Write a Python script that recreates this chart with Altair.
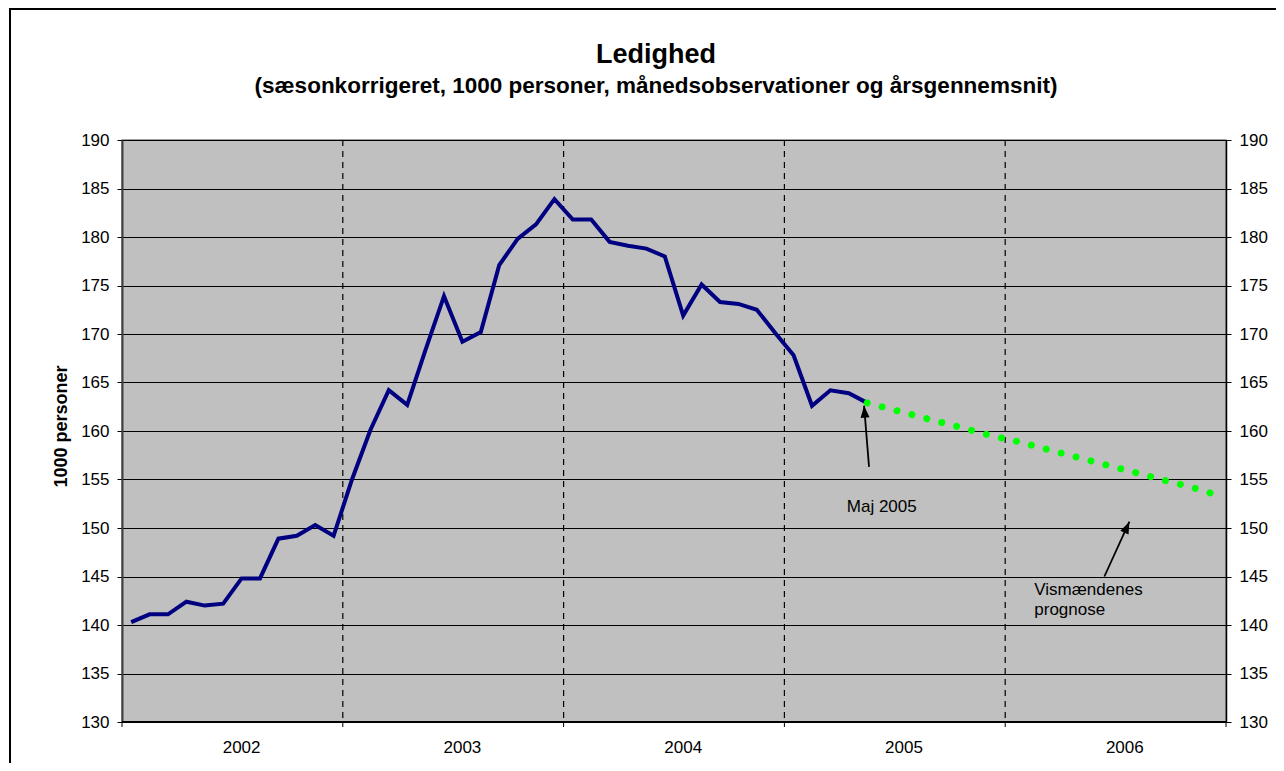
import altair as alt
import pandas as pd

# ---- data ----
# month number counted from January 2002 (= 1)
obs_month = list(range(1, 42))
ledighed = [140.3, 141.1, 141.1, 142.4, 142.0, 142.2, 144.8, 144.8, 148.9, 149.2, 150.3, 149.2,
            155.0, 160.1, 164.2, 162.7, 168.4, 173.9, 169.2, 170.2, 177.1, 179.8, 181.3, 183.9,
            181.8, 181.8, 179.5, 179.1, 178.8, 178.0, 171.9, 175.1, 173.3, 173.1, 172.5, 170.1,
            167.8, 162.6, 164.2, 163.9, 162.9]
prog_month = list(range(41, 61))
prognose = [162.9, 162.4, 161.9, 161.4, 160.9, 160.4, 159.9, 159.4, 159.0, 158.5,
            158.0, 157.5, 157.0, 156.5, 156.0, 155.5, 155.0, 154.5, 154.0, 153.4]
years = [2002, 2003, 2004, 2005, 2006]
y_ticks = [130, 135, 140, 145, 150, 155, 160, 165, 170, 175, 180, 185, 190]
year_bounds = [0, 12, 24, 36, 48, 60]
inner_bounds = [12, 24, 36, 48]

W, H = 1104, 582
FONT = "Liberation Sans"

xs = alt.Scale(domain=[0, 60], nice=False, zero=False)
ys = alt.Scale(domain=[130, 190], nice=False, zero=False)

obs = pd.DataFrame({"m": obs_month, "v": ledighed})
prog = pd.DataFrame({"m": prog_month, "v": prognose})
yr = pd.DataFrame({"year": years})
bounds = pd.DataFrame({"b": year_bounds})
inner = pd.DataFrame({"b": inner_bounds})
one = pd.DataFrame({"a": [0]})

vgrid = alt.Chart(inner).mark_rule(color="black", strokeWidth=1.2, strokeDash=[6, 5]).encode(
    x=alt.X("b:Q", scale=xs, axis=None),
    y=alt.value(0), y2=alt.value(H),
)

xticks = alt.Chart(bounds).mark_rule(color="black", strokeWidth=1).encode(
    x=alt.X("b:Q", scale=xs, axis=None),
    y=alt.value(H), y2=alt.value(H + 5),
)

blue = alt.Chart(obs).transform_calculate(x="datum.m - 0.5").mark_line(
    color="#000080", strokeWidth=4
).encode(
    x=alt.X("x:Q", scale=xs, axis=None),
    y=alt.Y("v:Q", scale=ys, axis=alt.Axis(
        orient="left", values=y_ticks, title="1000 personer",
        titleFont=FONT, titleFontSize=18, titleFontWeight="bold", titleColor="black",
        titleAngle=270, titleX=-61, titleY=286, titleAlign="center", titleBaseline="middle",
        labelFont=FONT, labelFontSize=17, labelColor="black", labelPadding=8,
        ticks=True, tickSize=5, tickColor="black",
        grid=True, gridColor="black", gridWidth=1,
        domainColor="#404040", domainWidth=2)),
)

green = alt.Chart(prog).transform_calculate(x="datum.m - 0.5").mark_line(
    color="#00FF00", strokeWidth=7, strokeCap="round", strokeDash=[0.01, 15.4]
).encode(
    x=alt.X("x:Q", scale=xs, axis=None),
    y=alt.Y("v:Q", scale=ys, axis=alt.Axis(
        orient="right", values=y_ticks, title=None, grid=False,
        labelFont=FONT, labelFontSize=17, labelColor="black", labelPadding=8,
        ticks=True, tickSize=5, tickColor="black",
        domainColor="black", domainWidth=1.5)),
)

x_domain = alt.Chart(one).mark_rule(color="black", strokeWidth=2).encode(
    x=alt.value(0), x2=alt.value(W), y=alt.value(H))

year_labels = alt.Chart(yr).transform_calculate(
    x="(datum.year - 2002) * 12 + 6.5", t="'' + datum.year"
).mark_text(font=FONT, fontSize=17, color="black", baseline="alphabetic", align="center").encode(
    x=alt.X("x:Q", scale=xs, axis=None),
    y=alt.value(613),
    text="t:N",
)

def arrow(tail_x, tail_y, tip_x, tip_y, ang):
    shaft = alt.Chart(one).mark_rule(color="black", strokeWidth=1.8).encode(
        x=alt.XDatum(tail_x, scale=xs, axis=None),
        y=alt.YDatum(tail_y, scale=ys, axis=None),
        x2=alt.datum(tip_x),
        y2=alt.datum(tip_y),
    )
    head = alt.Chart(one).mark_point(
        shape="M0,0L-0.75,2L0.75,2Z", filled=True, color="black", opacity=1,
        size=144, angle=ang, strokeWidth=0
    ).encode(
        x=alt.XDatum(tip_x, scale=xs, axis=None),
        y=alt.YDatum(tip_y, scale=ys, axis=None),
    )
    return [shaft, head]

def note(tx, ty, text):
    return alt.Chart(one).mark_text(
        font=FONT, fontSize=17, color="black", align="left", baseline="alphabetic", lineHeight=20
    ).encode(
        x=alt.XDatum(tx, scale=xs, axis=None),
        y=alt.YDatum(ty, scale=ys, axis=None),
        text=alt.value(text),
    )

maj_arrow = arrow(40.6, 156.3, 40.33, 162.6, 355.3)
vis_arrow = arrow(53.39, 145.0, 54.75, 150.65, 24.4)
maj_text = note(39.39, 151.7, "Maj 2005")
vis_text = note(49.58, 143.1, ["Vismændenes", "prognose"])

title = alt.Chart(one).mark_text(
    font=FONT, fontSize=27, fontWeight="bold", color="black", align="center", baseline="alphabetic"
).encode(x=alt.value(534), y=alt.value(-77), text=alt.value("Ledighed"))

subtitle = alt.Chart(one).mark_text(
    font=FONT, fontSize=22.5, fontWeight="bold", color="black", align="center", baseline="alphabetic"
).encode(x=alt.value(534), y=alt.value(-47),
         text=alt.value("(sæsonkorrigeret, 1000 personer, månedsobservationer og årsgennemsnit)"))

border_left = alt.Chart(one).mark_rule(color="black", strokeWidth=2).encode(
    x=alt.value(-112), y=alt.value(-131), y2=alt.value(660))
border_top = alt.Chart(one).mark_rule(color="black", strokeWidth=2).encode(
    x=alt.value(-113), x2=alt.value(1200), y=alt.value(-131))

chart = alt.layer(
    vgrid, blue, green, x_domain, xticks, year_labels, *maj_arrow, *vis_arrow, maj_text, vis_text,
    title, subtitle, border_left, border_top
).resolve_axis(y="independent").properties(
    width=W, height=H,
    autosize=alt.AutoSizeParams(type="none"),
    padding={"left": 114, "top": 132, "right": 50, "bottom": 41},
).configure(
    font=FONT, background="white"
).configure_view(
    fill="#C0C0C0", stroke="#808080", strokeWidth=1.5
)

chart.save("out.html", embed_options={"renderer": "svg", "actions": False})
